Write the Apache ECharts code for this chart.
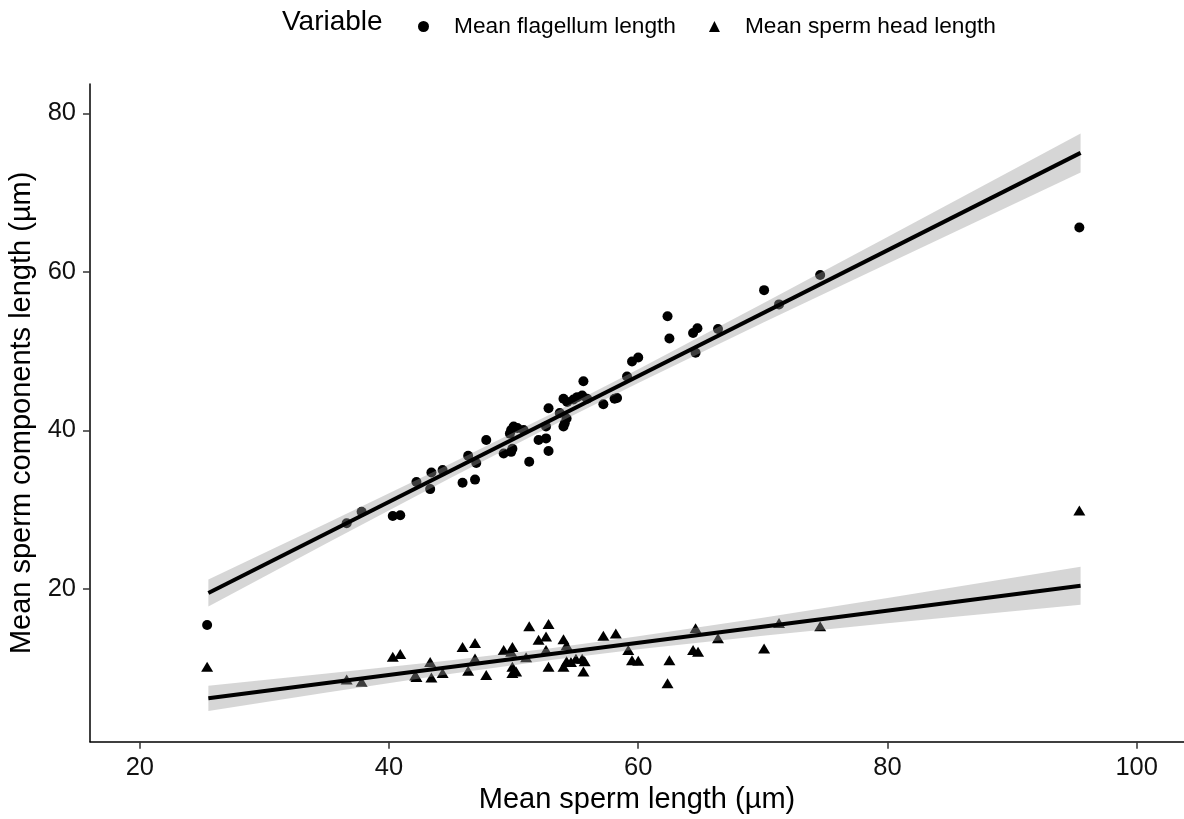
<!DOCTYPE html>
<html><head><meta charset="utf-8">
<script src="https://cdn.jsdelivr.net/npm/echarts@6/dist/echarts.min.js"></script>
<style>html,body{margin:0;padding:0;background:#fff}#c{width:1184px;height:819px}</style>
</head><body><div id="c"></div>
<script>
// Mean flagellum length (circles)
const flagX = [25.4,36.6,37.8,40.3,40.9,42.2,43.3,43.4,44.3,45.9,46.35,47.0,46.9,47.8,49.2,49.8,49.9,49.7,49.8,50.0,50.3,50.8,51.25,52.0,52.6,52.8,52.6,52.8,53.7,54.25,54.0,54.1,54.0,54.3,54.8,55.1,55.5,55.6,55.9,57.2,58.1,58.3,59.1,59.5,60.0,62.35,62.5,64.4,64.75,64.6,66.4,70.1,71.3,74.6,95.4];
const flagY = [15.45,28.3,29.75,29.2,29.3,33.5,32.6,34.7,35.0,33.4,36.8,35.9,33.8,38.8,37.1,37.3,37.7,39.6,40.05,40.5,40.3,40.05,36.05,38.8,39.0,37.4,40.5,42.8,42.2,41.5,40.5,40.9,44.0,43.6,43.9,44.2,44.4,46.2,44.0,43.3,44.0,44.1,46.8,48.7,49.2,54.4,51.6,52.3,52.9,49.8,52.8,57.7,55.9,59.6,65.6];
// Mean sperm head length (triangles)
const headX = [25.4,36.6,37.8,40.3,40.9,42.2,42.1,43.3,43.4,44.3,45.9,46.9,46.35,46.9,47.8,49.2,49.9,49.8,49.9,50.2,49.9,51.0,51.25,52.8,52.0,52.6,52.6,52.8,54.0,54.25,54.0,54.25,54.6,55.0,55.5,55.7,55.6,57.2,58.2,59.2,59.5,60.0,62.5,62.35,64.6,66.4,64.4,64.8,71.3,74.6,70.1,95.4];
const headY = [10.2,8.6,8.3,11.45,11.8,8.9,9.1,10.8,8.85,9.4,12.7,13.2,9.7,11.25,9.15,12.3,12.7,12.1,10.2,9.6,9.4,11.4,15.3,15.6,13.6,14.0,12.3,10.2,13.65,12.9,10.2,10.9,10.8,11.2,11.2,10.9,9.6,14.1,14.4,12.3,11.0,10.95,11.0,8.1,15.05,13.8,12.3,12.1,15.7,15.3,12.5,29.9];
// Fitted lines with confidence bands
const bandX = [25.5,35,45,53,60,70,80,95.5];
const flagFit = [19.50,27.04,34.97,41.31,46.86,54.79,62.72,75.01];
const flagHalf = [1.70,1.26,0.89,0.77,0.86,1.21,1.68,2.46];
const headFit = [6.21,8.14,10.17,11.79,13.21,15.24,17.27,20.42];
const headHalf = [1.60,1.20,0.85,0.75,0.82,1.15,1.60,2.40];
const xTicks = [20,40,60,80,100];
const yTicks = [20,40,60,80];
const seriesNames = ['Mean flagellum length','Mean sperm head length'];

const zip = (a,b)=>a.map((v,i)=>[v,b[i]]);
function bandSeries(fit, half){
  return {
    type:'custom', silent:true, z:3, data:[0],
    renderItem:function(params, api){
      const pts=[];
      for(let i=0;i<bandX.length;i++) pts.push(api.coord([bandX[i], fit[i]+half[i]]));
      for(let i=bandX.length-1;i>=0;i--) pts.push(api.coord([bandX[i], fit[i]-half[i]]));
      return {type:'polygon', shape:{points:pts}, style:{fill:'rgba(153,153,153,0.4)'}};
    }
  };
}
function fitSeries(fit){
  return {type:'line', silent:true, z:4, showSymbol:false, symbol:'none',
    data:[[bandX[0],fit[0]],[bandX[bandX.length-1],fit[fit.length-1]]],
    lineStyle:{color:'#000',width:4}};
}
const font='Liberation Sans, Arial, sans-serif';
const chart = echarts.init(document.getElementById('c'));
chart.setOption({
  animation:false,
  backgroundColor:'#fff',
  textStyle:{fontFamily:font},
  grid:{left:90,right:0,top:84,bottom:77.3,containLabel:false,outerBoundsMode:'none'},
  graphic:[{type:'text',left:282,top:8,style:{text:'Variable',fontSize:28,fontFamily:font,fill:'#000'}}],
  legend:{
    data:seriesNames, left:413, top:10, itemWidth:11, itemHeight:11, itemGap:33,
    textStyle:{fontSize:22.7,fontFamily:font,color:'#000',padding:[0,0,0,20]}
  },
  xAxis:{
    type:'value', min:16, max:103.8,
    name:'Mean sperm length (µm)', nameLocation:'middle', nameGap:44,
    nameTextStyle:{fontSize:29,color:'#000',fontFamily:font},
    axisLine:{lineStyle:{color:'#000',width:1.5}},
    axisTick:{show:true,length:7,customValues:xTicks,lineStyle:{color:'#333',width:1.5}},
    axisLabel:{customValues:xTicks,fontSize:25.5,color:'#111',margin:13,fontFamily:font},
    splitLine:{show:false}
  },
  yAxis:{
    type:'value', min:0.74, max:83.7,
    name:'Mean sperm components length (µm)', nameLocation:'middle', nameGap:46,
    nameTextStyle:{fontSize:29,color:'#000',fontFamily:font},
    axisLine:{show:true,lineStyle:{color:'#000',width:1.5}},
    axisTick:{show:true,length:7,customValues:yTicks,lineStyle:{color:'#333',width:1.5}},
    axisLabel:{customValues:yTicks,fontSize:25.5,color:'#111',margin:14,fontFamily:font},
    splitLine:{show:false}
  },
  series:[
    {name:seriesNames[0],type:'scatter',symbol:'circle',symbolSize:10,z:2,data:zip(flagX,flagY),itemStyle:{color:'#000',opacity:1}},
    {name:seriesNames[1],type:'scatter',symbol:'triangle',symbolSize:[12,10],z:2,data:zip(headX,headY),itemStyle:{color:'#000',opacity:1}},
    bandSeries(flagFit,flagHalf),
    bandSeries(headFit,headHalf),
    fitSeries(flagFit),
    fitSeries(headFit)
  ]
});
</script></body></html>
